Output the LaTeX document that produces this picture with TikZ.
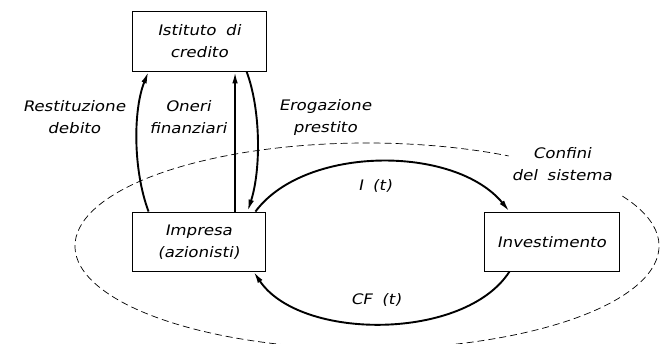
\documentclass[tikz,border=0pt]{standalone}
\usepackage{fontspec}
\newfontfamily\cad{DejaVu Sans}[FakeSlant=0.2,FakeStretch=1.15,WordSpace=1.8]
\usetikzlibrary{arrows.meta}
\tikzset{
  box/.style={draw, line width=0.9pt, inner sep=0pt},
  lbl/.style={font=\cad\fontsize{14.5}{22}\selectfont, align=center, inner sep=0pt},
  flow/.style={line width=1.9pt, -{Latex[length=12pt,width=5.5pt]}},
  bound/.style={line width=0.7pt, dash pattern=on 7pt off 4pt},
}
\begin{document}
\begin{tikzpicture}[x=1pt,y=-1pt]
\useasboundingbox (0,0) rectangle (661,343);
% boxes
\node[box, minimum width=134pt, minimum height=60pt] (ist) at (199,41) {};
\node[lbl] (istt) at (199,41) {Istituto di\\credito};
\node[box, minimum width=133pt, minimum height=59pt] (imp) at (198.5,241.5) {};
\node[lbl] (impt) at (198.5,242) {Impresa\\(azionisti)};
\node[box, minimum width=135pt, minimum height=59pt] (inv) at (551.5,241.5) {};
\node[lbl] (invt) at (551.5,242) {Investimento};
% boundary
\draw[bound] (367,246) ++(-29:292 and 103) arc[start angle=-29, end angle=299, x radius=292, y radius=103];
% flows
\draw[flow] ([xshift=17pt]imp.north west) .. controls (133,170) and (133,110) .. ([xshift=17pt]ist.south west);
\draw[flow] ([xshift=103.5pt]imp.north west) -- ([xshift=103.5pt]ist.south west);
\draw[flow] ([xshift=115pt]ist.south west) .. controls (261,110) and (261,170) .. ([xshift=116pt]imp.north west);
\draw[flow] ([xshift=-10pt]imp.north east) .. controls (305,145) and (455,145) .. ([xshift=26pt]inv.north west);
\draw[flow] ([xshift=26pt]inv.south west) .. controls (465,341) and (300,341) .. ([xshift=-12pt]imp.south east);
% labels
\node[lbl] (l1) at (74,117) {Restituzione\\debito};
\node[lbl] (l2) at (188,117) {Oneri\\finanziari};
\node[lbl] (l3) at (325,117) {Erogazione\\prestito};
\node[lbl] (l4) at (562,164) {Confini\\del sistema};
\node[lbl] (l5) at (375,186) {I (t)};
\node[lbl] (l6) at (376,300) {CF (t)};
\end{tikzpicture}
\end{document}
